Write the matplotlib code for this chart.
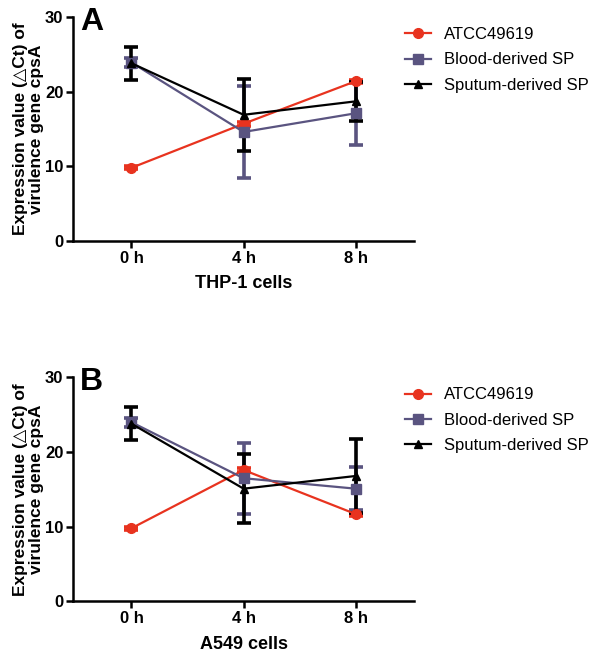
"""Expression of cpsA in THP-1 and A549 cells."""

import matplotlib

matplotlib.use("Agg")
import matplotlib.pyplot as plt
from matplotlib.lines import Line2D
import numpy as np

plt.rcParams["font.family"] = ["Liberation Sans", "DejaVu Sans"]

times = ["0 h", "4 h", "8 h"]
series = ["ATCC49619", "Blood-derived SP", "Sputum-derived SP"]

# panel A: THP-1 cells
thp_mean = {
    "ATCC49619": [9.8, 15.7, 21.4],
    "Blood-derived SP": [23.9, 14.6, 17.1],
    "Sputum-derived SP": [23.8, 16.9, 18.7],
}
thp_err = {
    "ATCC49619": [0.2, 0.3, 0.2],
    "Blood-derived SP": [0.6, 6.2, 4.2],
    "Sputum-derived SP": [2.2, 4.85, 2.6],
}

# panel B: A549 cells
a549_mean = {
    "ATCC49619": [9.8, 17.6, 11.7],
    "Blood-derived SP": [24.0, 16.5, 15.1],
    "Sputum-derived SP": [23.8, 15.1, 16.8],
}
a549_err = {
    "ATCC49619": [0.2, 0.3, 0.2],
    "Blood-derived SP": [0.6, 4.75, 2.9],
    "Sputum-derived SP": [2.2, 4.6, 4.95],
}

colors = {"ATCC49619": "#e8331f", "Blood-derived SP": "#5a5480", "Sputum-derived SP": "#000000"}
markers = {"ATCC49619": "o", "Blood-derived SP": "s", "Sputum-derived SP": "^"}
msizes = {"ATCC49619": 7, "Blood-derived SP": 7, "Sputum-derived SP": 6}


def draw_panel(ax, means, errs, letter, xlabel):
    x = np.arange(len(times))
    for name in series:
        ax.errorbar(
            x, means[name], yerr=errs[name],
            color=colors[name], marker=markers[name], ms=msizes[name],
            lw=1.6, elinewidth=2.6, capsize=5, capthick=2.6,
        )
    ax.set_xlim(-0.52, 2.52)
    ax.set_ylim(0, 30)
    ax.set_yticks([0, 10, 20, 30])
    ax.set_xticks(x)
    ax.set_xticklabels(times)
    for s in ["top", "right"]:
        ax.spines[s].set_visible(False)
    for s in ["left", "bottom"]:
        ax.spines[s].set_linewidth(1.8)
    ax.tick_params(direction="out", length=5, width=1.8, labelsize=12, pad=2)
    for lab in ax.get_xticklabels() + ax.get_yticklabels():
        lab.set_fontweight("bold")
    ax.set_xlabel(xlabel, fontsize=13, fontweight="bold", labelpad=7)
    ax.set_ylabel("Expression value (\u25b3Ct) of\nvirulence gene cpsA",
                  fontsize=12.5, fontweight="bold", labelpad=1, linespacing=1.1)
    ax.text(0.02, 1.045, letter, transform=ax.transAxes, fontsize=23,
            fontweight="bold", va="top", ha="left")
    handles = [
        Line2D([], [], color=colors[n], marker=markers[n], ms=msizes[n], lw=1.6)
        for n in series
    ]
    ax.legend(handles, series, loc="upper left", bbox_to_anchor=(0.955, 0.985),
              frameon=False, fontsize=12, handlelength=1.55, handletextpad=0.75,
              labelspacing=0.62, borderaxespad=0)


fig = plt.figure(figsize=(6.0, 6.53), dpi=100)
ax_a = fig.add_axes([0.122, 0.631, 0.568, 0.343])
ax_b = fig.add_axes([0.122, 0.079, 0.568, 0.343])
draw_panel(ax_a, thp_mean, thp_err, "A", "THP-1 cells")
draw_panel(ax_b, a549_mean, a549_err, "B", "A549 cells")

fig.savefig("out.png", dpi=100)
plt.close(fig)
